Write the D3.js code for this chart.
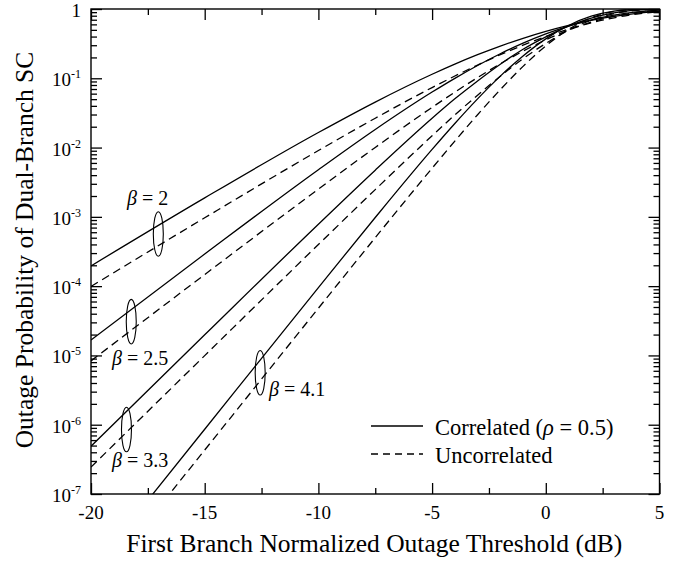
<!DOCTYPE html>
<html>
<head>
<meta charset="utf-8">
<script src="https://cdn.jsdelivr.net/npm/d3@7"></script>
<style>
  html, body { margin: 0; padding: 0; background: #fff; }
  svg { display: block; }
  text { font-family: "Liberation Serif", "Times New Roman", serif; fill: #000; }
</style>
</head>
<body>
<svg id="chart" width="683" height="561"></svg>
<script>
// Threshold grid (dB) shared by every curve
const thresholdDb = [-20, -15, -10, -7.5, -5, -4, -3, -2, -1, 0, 1, 2, 3, 4, 5];

// Outage probability, correlated branches (rho = 0.5)
const corrBeta2  = [1.960e-4, 1.879e-3, 1.651e-2, 4.540e-2, 0.1143, 0.1600, 0.2188, 0.2917, 0.3782, 0.4765, 0.5817, 0.6871, 0.7850, 0.8672, 0.9282];
const corrBeta25 = [1.664e-5, 2.905e-4, 4.786e-3, 1.824e-2, 6.325e-2, 9.985e-2, 0.1530, 0.2263, 0.3217, 0.4375, 0.5672, 0.6989, 0.8171, 0.9073, 0.9632];
const corrBeta33 = [4.89e-7, 1.983e-5, 7.835e-4, 4.719e-3, 2.645e-2, 5.047e-2, 9.166e-2, 0.1599, 0.2626, 0.3965, 0.5649, 0.7370, 0.8773, 0.9609, 0.9929];
const corrBeta41 = [7.674e-9, 8.608e-7, 9.538e-5, 9.794e-4, 9.406e-3, 2.227e-2, 5.046e-2, 0.1074, 0.2104, 0.3710, 0.5786, 0.7869, 0.9317, 0.9895, 0.9995];

// Outage probability, uncorrelated branches
const uncorrBeta2  = [9.90e-5, 9.688e-4, 9.056e-3, 2.654e-2, 7.350e-2, 0.1078, 0.1554, 0.2189, 0.3004, 0.3996, 0.5127, 0.6320, 0.7465, 0.8444, 0.9172];
const uncorrBeta25 = [8.346e-6, 1.470e-4, 2.515e-3, 1.005e-2, 3.806e-2, 6.310e-2, 0.1025, 0.1618, 0.2465, 0.3594, 0.4967, 0.6456, 0.7847, 0.8923, 0.9583];
const uncorrBeta33 = [2.447e-7, 9.941e-6, 3.990e-4, 2.472e-3, 1.481e-2, 2.959e-2, 5.705e-2, 0.1072, 0.1921, 0.3183, 0.4944, 0.6899, 0.8566, 0.9556, 0.9923];
const uncorrBeta41 = [3.838e-9, 4.307e-7, 4.802e-5, 5.007e-4, 5.042e-3, 1.241e-2, 2.976e-2, 6.854e-2, 0.1485, 0.2933, 0.5094, 0.7487, 0.9214, 0.9885, 0.9995];

// Axis ticks
const xMajorTicks = [-20, -15, -10, -5, 0, 5];
const xMinorTicks = [-17.5, -12.5, -7.5, -2.5, 2.5];
const yDecadeExponents = [0, -1, -2, -3, -4, -5, -6, -7];

// Beta group markers: ellipse centre and label anchor in data units
const betaLabels = ["2", "2.5", "3.3", "4.1"];
const markerDb   = [-17.04, -18.23, -18.44, -12.56];
const markerProb = [5.66e-4, 3.07e-5, 8.53e-7, 5.62e-6];
const labelDb    = [-18.42, -19.08, -19.08, -12.17];
const labelProb  = [1.483e-3, 7.28e-6, 2.455e-7, 2.60e-6];

const svg = d3.select("#chart");
const plot = { left: 91, right: 659.5, top: 9, bottom: 494 };

const x = d3.scaleLinear().domain([-20, 5]).range([plot.left, plot.right]);
const y = d3.scaleLog().domain([1e-7, 1]).range([plot.bottom, plot.top]);

svg.append("defs").append("clipPath").attr("id", "plotClip")
  .append("rect")
  .attr("x", plot.left).attr("y", plot.top)
  .attr("width", plot.right - plot.left).attr("height", plot.bottom - plot.top);

// Curves
const series = [
  { values: corrBeta2, dashed: false },
  { values: corrBeta25, dashed: false },
  { values: corrBeta33, dashed: false },
  { values: corrBeta41, dashed: false },
  { values: uncorrBeta2, dashed: true },
  { values: uncorrBeta25, dashed: true },
  { values: uncorrBeta33, dashed: true },
  { values: uncorrBeta41, dashed: true }
];

const line = d3.line()
  .x(d => x(d[0]))
  .y(d => y(d[1]))
  .curve(d3.curveMonotoneX);

const curves = svg.append("g").attr("clip-path", "url(#plotClip)");
series.forEach(s => {
  curves.append("path")
    .datum(thresholdDb.map((t, i) => [t, s.values[i]]))
    .attr("d", line)
    .attr("fill", "none")
    .attr("stroke", "#000")
    .attr("stroke-width", 1.3)
    .attr("stroke-dasharray", s.dashed ? "8,5" : null);
});

// Frame
svg.append("rect")
  .attr("x", plot.left).attr("y", plot.top)
  .attr("width", plot.right - plot.left).attr("height", plot.bottom - plot.top)
  .attr("fill", "none").attr("stroke", "#000").attr("stroke-width", 1.4);

// Inward ticks on all four sides
const yMinorTicks = [];
yDecadeExponents.slice(1).forEach(e => {
  for (let k = 2; k <= 9; k++) yMinorTicks.push(k * Math.pow(10, e));
});
const yMajorTicks = yDecadeExponents.map(e => Math.pow(10, e));

function drawAxis(axis, tx, ty) {
  const g = svg.append("g").attr("transform", `translate(${tx},${ty})`).call(axis);
  g.select(".domain").remove();
  g.selectAll("line").attr("stroke", "#000").attr("stroke-width", 1.3);
  g.selectAll("text").remove();
}
drawAxis(d3.axisBottom(x).tickValues(xMajorTicks).tickSize(-11).tickFormat(""), 0, plot.bottom);
drawAxis(d3.axisBottom(x).tickValues(xMinorTicks).tickSize(-6).tickFormat(""), 0, plot.bottom);
drawAxis(d3.axisTop(x).tickValues(xMajorTicks).tickSize(-11).tickFormat(""), 0, plot.top);
drawAxis(d3.axisTop(x).tickValues(xMinorTicks).tickSize(-6).tickFormat(""), 0, plot.top);
drawAxis(d3.axisLeft(y).tickValues(yMajorTicks).tickSize(-11).tickFormat(""), plot.left, 0);
drawAxis(d3.axisLeft(y).tickValues(yMinorTicks).tickSize(-6).tickFormat(""), plot.left, 0);
drawAxis(d3.axisRight(y).tickValues(yMajorTicks).tickSize(-11).tickFormat(""), plot.right, 0);
drawAxis(d3.axisRight(y).tickValues(yMinorTicks).tickSize(-6).tickFormat(""), plot.right, 0);

// Tick labels
svg.append("g").selectAll("text").data(xMajorTicks).join("text")
  .attr("x", d => x(d)).attr("y", 519)
  .attr("text-anchor", "middle").attr("font-size", 19)
  .text(d => String(d));

const yLab = svg.append("g").selectAll("text").data(yDecadeExponents).join("text")
  .attr("x", 81).attr("y", d => y(Math.pow(10, d)) + 8)
  .attr("text-anchor", "end").attr("font-size", 19);
yLab.each(function(e) {
  const t = d3.select(this);
  if (e === 0) { t.text("1"); return; }
  t.append("tspan").text("10");
  t.append("tspan").attr("dy", -8).attr("font-size", 12).text(String(e));
});

// Axis titles
svg.append("text")
  .attr("x", (plot.left + plot.right) / 2 - 1).attr("y", 552)
  .attr("text-anchor", "middle").attr("font-size", 25.5)
  .text("First Branch Normalized Outage Threshold (dB)");

svg.append("text")
  .attr("transform", "translate(33,250) rotate(-90)")
  .attr("text-anchor", "middle").attr("font-size", 25.5)
  .text("Outage Probability of Dual-Branch SC");

// Beta group markers
const ann = svg.append("g");
betaLabels.forEach((b, i) => {
  ann.append("ellipse")
    .attr("cx", x(markerDb[i])).attr("cy", y(markerProb[i]))
    .attr("rx", 5).attr("ry", 22.3)
    .attr("fill", "none").attr("stroke", "#000").attr("stroke-width", 1.1);
  const t = ann.append("text")
    .attr("x", x(labelDb[i])).attr("y", y(labelProb[i]))
    .attr("font-size", 20);
  t.append("tspan").attr("font-style", "italic").text("\u03B2");
  t.append("tspan").text(" = " + b);
});

// Legend
const legendItems = [
  { dashed: false, parts: [["Correlated (", false], ["\u03C1", true], [" = 0.5)", false]] },
  { dashed: true, parts: [["Uncorrelated", false]] }
];
legendItems.forEach((item, i) => {
  const ly = 426 + i * 28;
  svg.append("line")
    .attr("x1", 371).attr("x2", 423).attr("y1", ly).attr("y2", ly)
    .attr("stroke", "#000").attr("stroke-width", 1.3)
    .attr("stroke-dasharray", item.dashed ? "7,5" : null);
  const t = svg.append("text").attr("x", 435).attr("y", ly + 8.5).attr("font-size", 22.5);
  item.parts.forEach(p => {
    t.append("tspan").attr("font-style", p[1] ? "italic" : null).text(p[0]);
  });
});
</script>
</body>
</html>
